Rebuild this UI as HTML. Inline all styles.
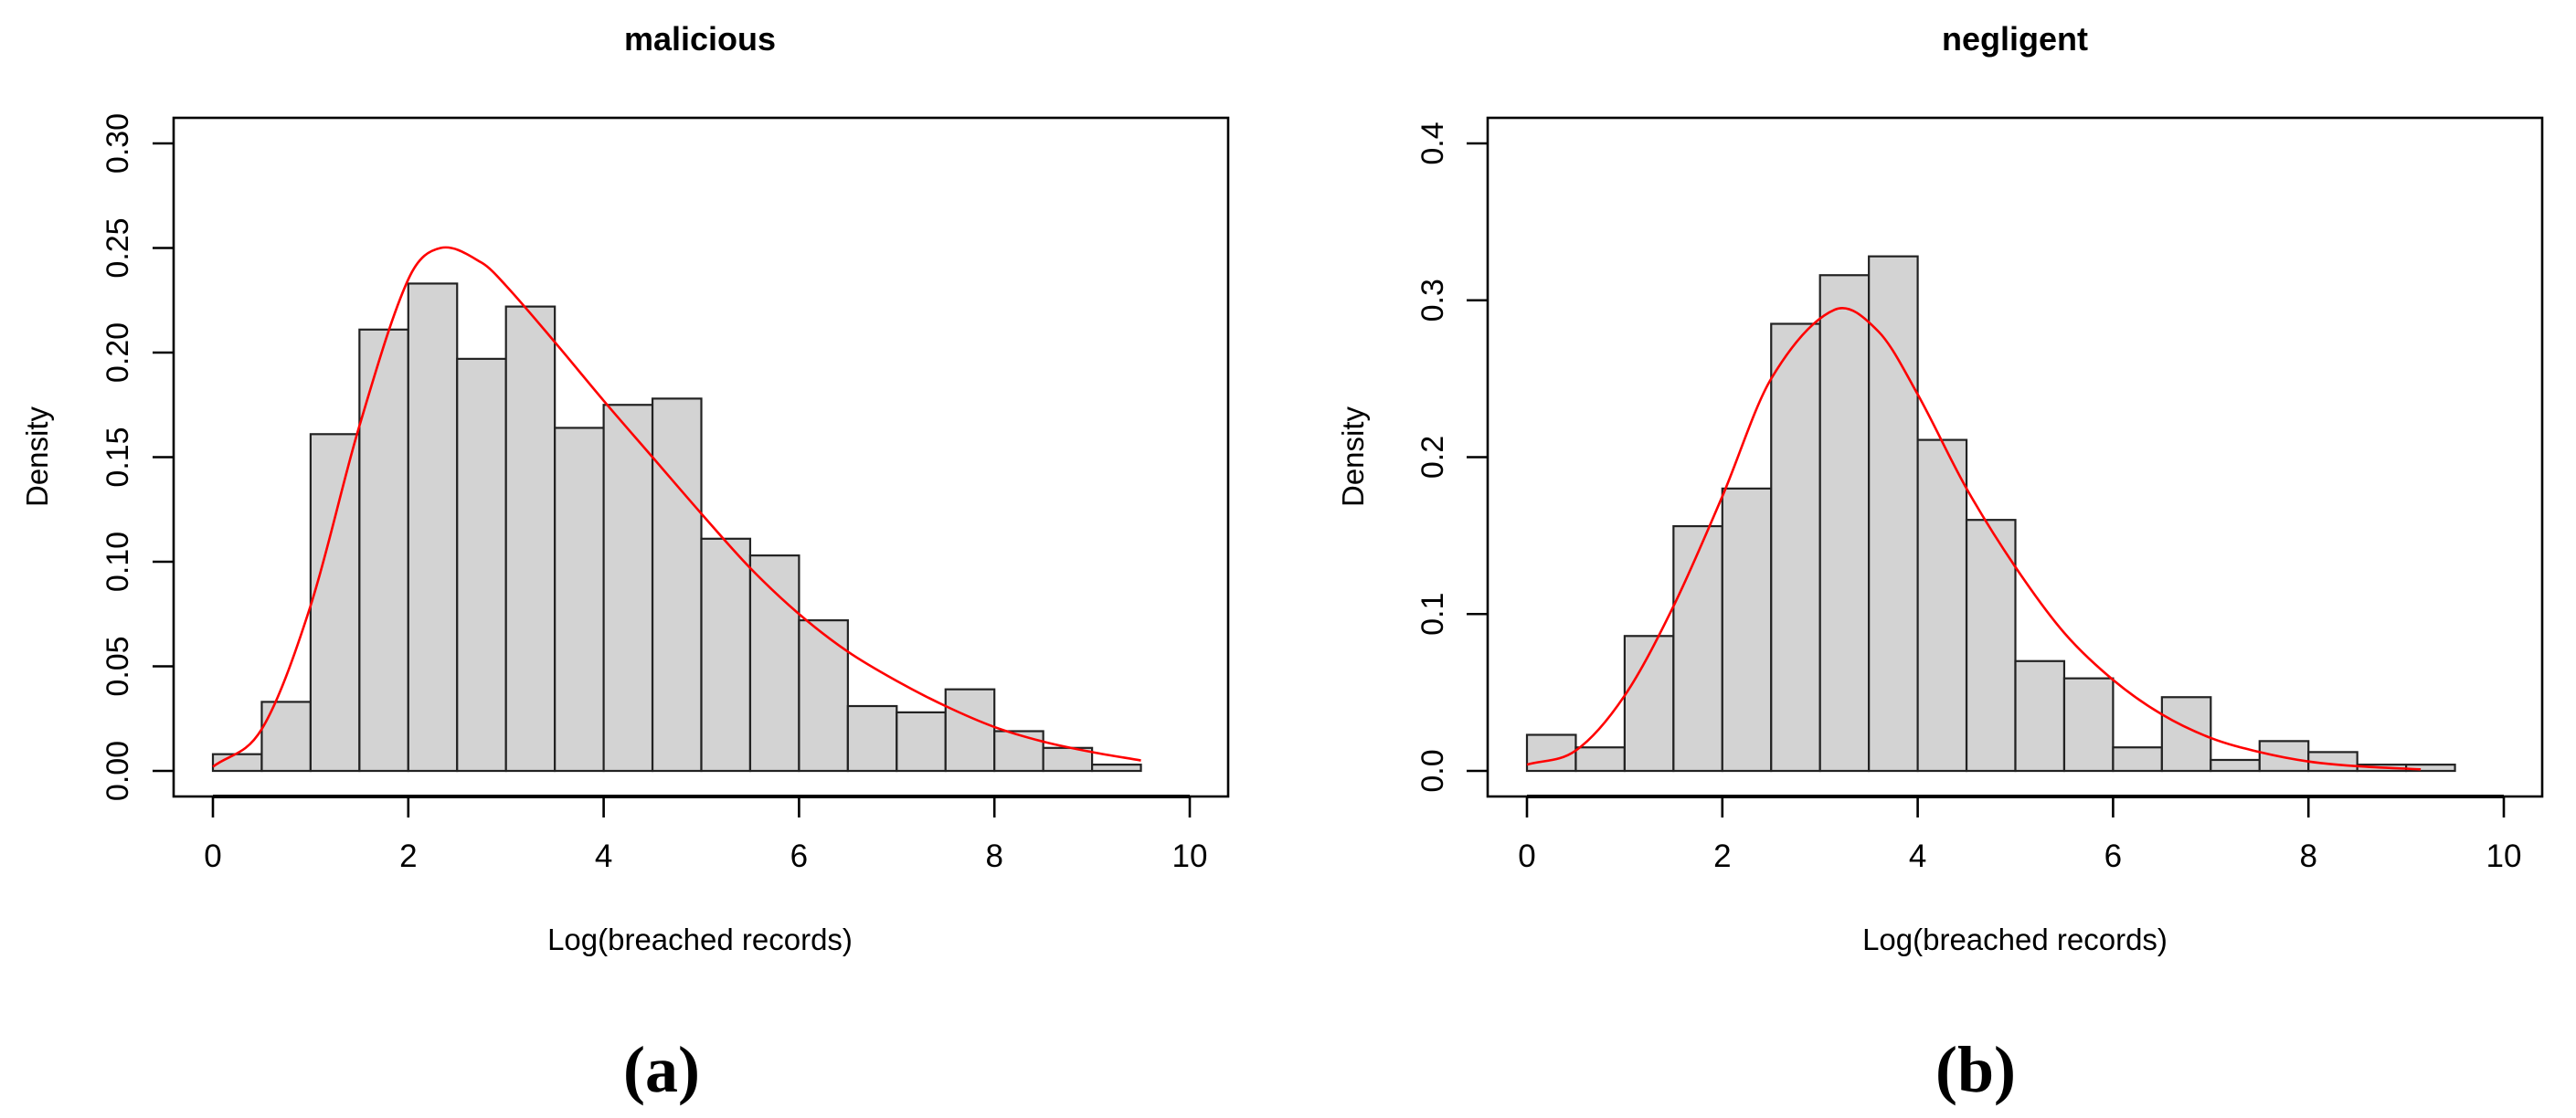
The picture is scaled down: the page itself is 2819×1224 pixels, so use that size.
<!DOCTYPE html>
<html><head><meta charset="utf-8"><style>
html,body{margin:0;padding:0;background:#fff;}
svg{display:block;}
text{font-family:"Liberation Sans",sans-serif;fill:#000;}
</style></head><body>
<svg id="fig" width="2819" height="1224" viewBox="0 0 2819 1224" xmlns="http://www.w3.org/2000/svg"></svg>
<script>
// ---- Panel (a) malicious data ----
const binEdgesA = [0,0.5,1,1.5,2,2.5,3,3.5,4,4.5,5,5.5,6,6.5,7,7.5,8,8.5,9,9.5];
const densityA = [0.008,0.033,0.161,0.211,0.233,0.197,0.222,0.164,0.175,0.178,0.111,0.103,0.072,0.031,0.028,0.039,0.019,0.011,0.003];
const curveXA = [0,0.5,1,1.5,2,2.33,2.75,3,3.5,4,4.5,5,5.5,6,6.5,7,7.5,8,8.5,9,9.5];
const curveYA = [0.002,0.02,0.079,0.165,0.235,0.25,0.243,0.232,0.205,0.177,0.15,0.123,0.097,0.075,0.057,0.043,0.031,0.021,0.014,0.009,0.005];
const yTicksA = ["0.00","0.05","0.10","0.15","0.20","0.25","0.30"];
// ---- Panel (b) negligent data ----
const binEdgesB = [0,0.5,1,1.5,2,2.5,3,3.5,4,4.5,5,5.5,6,6.5,7,7.5,8,8.5,9,9.5];
const densityB = [0.023,0.015,0.086,0.156,0.180,0.285,0.316,0.328,0.211,0.160,0.070,0.059,0.015,0.047,0.007,0.019,0.012,0.004,0.004];
const curveXB = [0,0.5,1,1.5,2,2.5,3.15,3.6,4,4.5,5,5.5,6,6.5,7,7.5,8,8.5,9.15];
const curveYB = [0.004,0.013,0.048,0.105,0.175,0.25,0.294,0.28,0.24,0.18,0.13,0.088,0.058,0.036,0.021,0.012,0.006,0.003,0.001];
const yTicksB = ["0.0","0.1","0.2","0.3","0.4"];
const xTicks = ["0","2","4","6","8","10"];

const NS="http://www.w3.org/2000/svg";
const svg=document.getElementById('fig');
function mk(tag,attrs,parent,txt){const e=document.createElementNS(NS,tag);for(const k in attrs)e.setAttribute(k,attrs[k]);if(txt!==undefined)e.textContent=txt;(parent||svg).appendChild(e);return e;}

function panel(cfg){
  const g=mk('g',{});
  
  
  const sx=v=>cfg.x0+(cfg.x10-cfg.x0)*v/10;
  const sy=v=>cfg.y0-(cfg.y0-cfg.yTop)*v/cfg.yMax;
  cfg.dens.forEach((d,i)=>{
    const x1=sx(cfg.edges[i]),x2=sx(cfg.edges[i+1]);
    const r=mk('rect',{x:x1,y:sy(d),width:x2-x1,height:sy(0)-sy(d),fill:'#d3d3d3',stroke:'#222','stroke-width':2.2},g);
    
    
  });
  // curve: cubic Hermite in data space with finite-difference slopes
  const X=cfg.cx,Y=cfg.cy,n=X.length;
  const m=X.map((x,i)=>{
    if(i===0) return (Y[1]-Y[0])/(X[1]-X[0]);
    if(i===n-1) return (Y[n-1]-Y[n-2])/(X[n-1]-X[n-2]);
    return (Y[i+1]-Y[i-1])/(X[i+1]-X[i-1]);
  });
  let d=`M${sx(X[0])},${sy(Y[0])}`;
  for(let i=0;i<n-1;i++){
    const h=X[i+1]-X[i];
    d+=` C${sx(X[i]+h/3)},${sy(Y[i]+m[i]*h/3)} ${sx(X[i+1]-h/3)},${sy(Y[i+1]-m[i+1]*h/3)} ${sx(X[i+1])},${sy(Y[i+1])}`;
  }
  const c=mk('path',{d:d,fill:'none',stroke:'#ff0000','stroke-width':2.6},g);
  
  
  const b=mk('rect',{x:cfg.bx1,y:129,width:cfg.bx2-cfg.bx1,height:872-129,fill:'none',stroke:'#000','stroke-width':2.6},g);
  
  
  const xa=mk('line',{x1:sx(0),x2:sx(10),y1:872,y2:872,stroke:'#000','stroke-width':4},g);
  
  
  xTicks.forEach(t=>{
    const v=parseFloat(t);
    mk('line',{x1:sx(v),x2:sx(v),y1:872,y2:895,stroke:'#000','stroke-width':2.6},g);
    const tl=mk('text',{x:sx(v),y:949,'font-size':35,'text-anchor':'middle'},g,t);
    
    
  });
  cfg.yt.forEach(t=>{
    const v=parseFloat(t);
    mk('line',{x1:cfg.bx1-23,x2:cfg.bx1,y1:sy(v),y2:sy(v),stroke:'#000','stroke-width':2.6},g);
    const tl=mk('text',{x:0,y:0,'font-size':34,'text-anchor':'middle',transform:`translate(${cfg.ytx},${sy(v)}) rotate(-90)`},g,t);
    
    
  });
  const yl=mk('text',{x:0,y:0,'font-size':33,'text-anchor':'middle',transform:`translate(${cfg.ylx},500) rotate(-90)`},g,'Density');
  
  
  const xl=mk('text',{x:cfg.xlx,y:1040,'font-size':33,'text-anchor':'middle'},g,'Log(breached records)');
  
  
  const tt=mk('text',{x:cfg.xlx,y:55,'font-size':36,'font-weight':'bold','text-anchor':'middle'},g,cfg.title);
  
  
  const lab=mk('text',{x:cfg.labx,y:1195,'font-size':72,'font-weight':'bold','text-anchor':'middle',style:'font-family:"Liberation Serif",serif'},g,cfg.lab);
  
  
}

panel({name:'panel-malicious',title:'malicious',lab:'(a)',edges:binEdgesA,dens:densityA,cx:curveXA,cy:curveYA,yt:yTicksA,
  x0:233,x10:1302,y0:844,yTop:157,yMax:0.30,bx1:190,bx2:1344,ytx:140,ylx:52,xlx:766,labx:724});
panel({name:'panel-negligent',title:'negligent',lab:'(b)',edges:binEdgesB,dens:densityB,cx:curveXB,cy:curveYB,yt:yTicksB,
  x0:1671,x10:2740,y0:844,yTop:157,yMax:0.4,bx1:1628,bx2:2782,ytx:1579,ylx:1492,xlx:2205,labx:2162});
</script>
</body></html>
